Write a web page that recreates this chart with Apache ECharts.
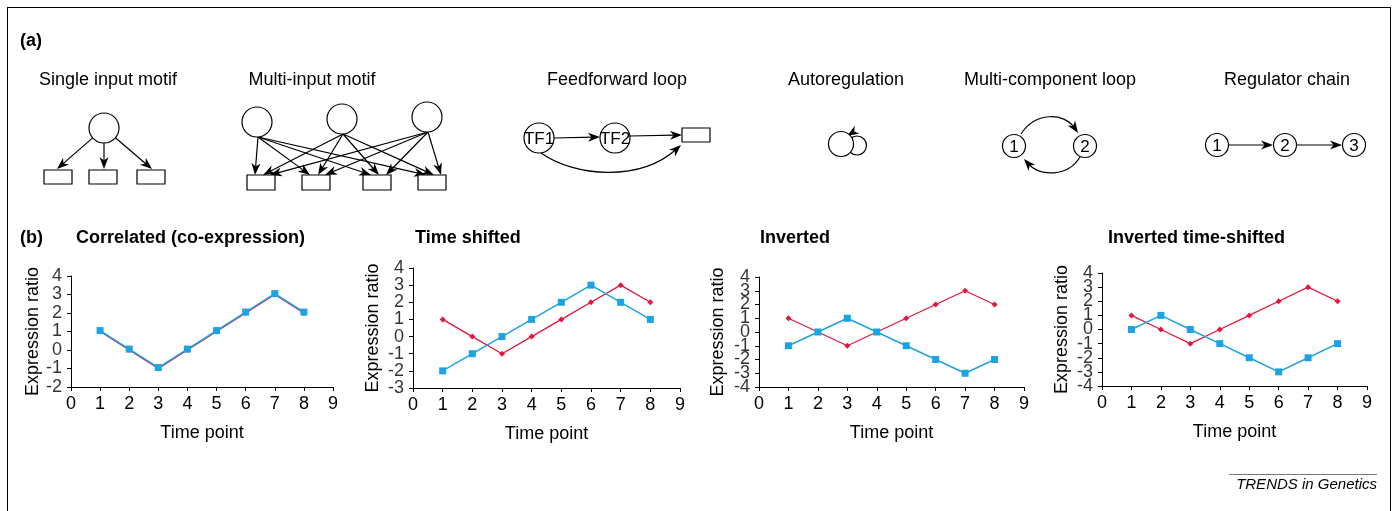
<!DOCTYPE html>
<html>
<head>
<meta charset="utf-8">
<script src="https://cdn.jsdelivr.net/npm/echarts@6/dist/echarts.min.js"></script>
<style>
  html, body { margin: 0; padding: 0; background: #fff; }
  #chart { width: 1398px; height: 511px; }
</style>
</head>
<body>
<div id="chart"></div>
<script>
// ---- data -------------------------------------------------------------
const timePoints = [1, 2, 3, 4, 5, 6, 7, 8];

const correlatedRed  = [1, 0, -1, 0, 1, 2, 3, 2];
const correlatedBlue = [1.05, 0.05, -0.95, 0.05, 1.05, 2.05, 3.05, 2.05];
const shiftedRed     = [1, 0, -1, 0, 1, 2, 3, 2];
const shiftedBlue    = [-2, -1, 0, 1, 2, 3, 2, 1];
const invertedRed    = [1, 0, -1, 0, 1, 2, 3, 2];
const invertedBlue   = [-1, 0, 1, 0, -1, -2, -3, -2];
const invShiftRed    = [1, 0, -1, 0, 1, 2, 3, 2];
const invShiftBlue   = [0, 1, 0, -1, -2, -3, -2, -1];

// y tick labels of each panel
const yTicksCorrelated = [-2, -1, 0, 1, 2, 3, 4];
const yTicksShifted    = [-3, -2, -1, 0, 1, 2, 3, 4];
const yTicksInverted   = [-4, -3, -2, -1, 0, 1, 2, 3, 4];
const yTicksInvShift   = [-4, -3, -2, -1, 0, 1, 2, 3, 4];

const panelTitles = ['Correlated (co-expression)', 'Time shifted', 'Inverted', 'Inverted time-shifted'];
const xMin = 0, xMax = 9;

const motifTitles = ['Single input motif', 'Multi-input motif', 'Feedforward loop',
                     'Autoregulation', 'Multi-component loop', 'Regulator chain'];

// ---- styling ----------------------------------------------------------
const FONT = '"Liberation Sans", Arial, Helvetica, sans-serif';
const RED = '#e3173e';
const BLUE = '#1ca4e2';
const STROKE = 1.2;

const grids = [
  { left: 71,   top: 276, width: 262, height: 111 },
  { left: 413,  top: 268, width: 267, height: 120 },
  { left: 759,  top: 277, width: 265, height: 110 },
  { left: 1102, top: 273, width: 265, height: 113 }
];
const yNameGaps = [29, 31, 32, 31];
const titleLefts = [76, 415, 760, 1108];

const seriesPairs = [
  [correlatedRed, correlatedBlue],
  [shiftedRed, shiftedBlue],
  [invertedRed, invertedBlue],
  [invShiftRed, invShiftBlue]
];
const yTickSets = [yTicksCorrelated, yTicksShifted, yTicksInverted, yTicksInvShift];

const toPairs = vals => timePoints.map((t, i) => [t, vals[i]]);

// ---- schematic helpers ------------------------------------------------
function head(tx, ty, ux, uy) {
  const L = 12, W = 4.5, N = 8.5;
  const bx = tx - ux * L, by = ty - uy * L;
  const px = -uy, py = ux;
  return {
    type: 'polygon', z: 20,
    shape: { points: [[tx, ty], [bx + px * W, by + py * W], [tx - ux * N, ty - uy * N], [bx - px * W, by - py * W]] },
    style: { fill: '#000' }
  };
}
function arrow(x1, y1, x2, y2) {
  const dx = x2 - x1, dy = y2 - y1, len = Math.hypot(dx, dy);
  const ux = dx / len, uy = dy / len;
  return [
    { type: 'line', z: 20, shape: { x1, y1, x2: x2 - ux * 7, y2: y2 - uy * 7 }, style: { stroke: '#000', lineWidth: STROKE } },
    head(x2, y2, ux, uy)
  ];
}
function curvedArrow(x1, y1, cx1, cy1, cx2, cy2, x2, y2) {
  const dx = x2 - cx2, dy = y2 - cy2, len = Math.hypot(dx, dy);
  const ux = dx / len, uy = dy / len;
  return [
    { type: 'bezierCurve', z: 20,
      shape: { x1, y1, cpx1: cx1, cpy1: cy1, cpx2: cx2, cpy2: cy2, x2: x2 - ux * 6, y2: y2 - uy * 6 },
      style: { stroke: '#000', fill: null, lineWidth: STROKE } },
    head(x2, y2, ux, uy)
  ];
}
function node(cx, cy, r, label, size) {
  const out = [{ type: 'circle', z: 21, shape: { cx, cy, r }, style: { fill: '#fff', stroke: '#000', lineWidth: STROKE } }];
  if (label) {
    out.push({ type: 'text', z: 22, x: cx, y: cy + 1,
      style: { text: label, font: (size || 16) + 'px ' + FONT, fill: '#000', align: 'center', verticalAlign: 'middle' } });
  }
  return out;
}
function box(x, y, w, h) {
  return { type: 'rect', z: 21, shape: { x, y, width: w, height: h }, style: { fill: '#fff', stroke: '#000', lineWidth: STROKE } };
}
function label(x, y, text, font, align) {
  return { type: 'text', z: 22, x, y,
    style: { text, font, fill: '#000', align: align || 'center', verticalAlign: 'middle' } };
}
function fromCircle(cx, cy, r, tx, ty) {
  const dx = tx - cx, dy = ty - cy, len = Math.hypot(dx, dy);
  return arrow(cx + dx / len * r, cy + dy / len * r, tx, ty);
}

// ---- panel (a) schematics ---------------------------------------------
const g = [];

// frame
g.push({ type: 'line', shape: { x1: 7, y1: 7.5, x2: 1391, y2: 7.5 }, style: { stroke: '#000', lineWidth: 1 } });
g.push({ type: 'line', shape: { x1: 7.5, y1: 7, x2: 7.5, y2: 511 }, style: { stroke: '#000', lineWidth: 1 } });
g.push({ type: 'line', shape: { x1: 1390.5, y1: 7, x2: 1390.5, y2: 511 }, style: { stroke: '#000', lineWidth: 1 } });

g.push(label(20, 41, '(a)', 'bold 18px ' + FONT, 'left'));
g.push(label(20, 238, '(b)', 'bold 18px ' + FONT, 'left'));

const motifCenters = [108, 312, 617, 846, 1050, 1287];
motifTitles.forEach((t, i) => g.push(label(motifCenters[i], 80, t, '18px ' + FONT)));

// single input motif
{
  const c = [104, 128, 15];
  const rects = [[44, 170], [89, 170], [137, 170]];
  const tips = [[57, 169], [104, 169], [152, 169]];
  tips.forEach(t => g.push(...fromCircle(c[0], c[1], c[2], t[0], t[1])));
  g.push(...node(c[0], c[1], c[2]));
  rects.forEach(r => g.push(box(r[0], r[1], 28, 14)));
}

// multi-input motif: every regulator points at every target
{
  const circles = [[257, 122], [342, 119], [427, 117]];
  const rectsX = [247, 302, 363, 418];
  const offs = [-6, 2, 9];
  circles.forEach((c, i) => {
    rectsX.forEach(x => {
      g.push(...arrow(c[0] + 1, c[1] + 15, x + 14 + offs[i], 175));
    });
  });
  circles.forEach(c => g.push(...node(c[0], c[1], 15)));
  rectsX.forEach(x => g.push(box(x, 175, 28, 15)));
}

// feedforward loop
{
  g.push(...arrow(554, 138, 600, 137));
  g.push(...arrow(630, 136, 682, 135));
  g.push(...curvedArrow(541, 153, 575, 177, 640, 182, 681, 145));
  g.push(...node(539, 138, 15, 'TF1', 17));
  g.push(...node(615, 138, 15, 'TF2', 17));
  g.push(box(682, 128, 28, 14));
}

// autoregulation
{
  g.push({ type: 'circle', z: 20, shape: { cx: 857, cy: 145.5, r: 9.5 }, style: { fill: null, stroke: '#000', lineWidth: STROKE } });
  g.push(...node(841, 144, 12.5));
  g.push(head(847, 136, -0.85, 0.53));
}

// multi-component loop
{
  g.push(...curvedArrow(1021, 134, 1035, 112, 1064, 112, 1078, 133));
  g.push(...curvedArrow(1080, 157, 1068, 177, 1040, 177, 1024, 159));
  g.push(...node(1014, 146, 11.5, '1', 17));
  g.push(...node(1085, 146, 11.5, '2', 17));
}

// regulator chain
{
  g.push(...arrow(1229, 145, 1273, 145));
  g.push(...arrow(1297, 145, 1342, 145));
  g.push(...node(1217, 145, 11.5, '1', 17));
  g.push(...node(1285, 145, 11.5, '2', 17));
  g.push(...node(1354, 145, 11.5, '3', 17));
}

// journal footer
g.push({ type: 'line', shape: { x1: 1229, y1: 474.5, x2: 1377, y2: 474.5 }, style: { stroke: '#777', lineWidth: 1 } });
g.push(label(1377, 485, 'TRENDS in Genetics', 'italic 15px ' + FONT, 'right'));

// ---- panel (b) charts -------------------------------------------------
const axisText = { color: '#000', fontSize: 18, fontFamily: FONT };

// the stacked y tick labels are drawn by a label-only series at x = 0,
// so none of them is dropped for sitting close to its neighbour
const tickLabelSeries = yTickSets.map((ticks, i) => ({
  type: 'scatter', xAxisIndex: i, yAxisIndex: i, silent: true, clip: false, z: 5,
  data: ticks.map(v => [xMin, v]),
  symbolSize: 0.1, itemStyle: { color: 'rgba(0,0,0,0)' },
  label: {
    show: true, position: 'left', distance: 9,
    formatter: p => String(p.value[1]),
    color: '#000', fontSize: 18, fontFamily: FONT
  },
  labelLayout: { hideOverlap: false }
}));

const option = {
  animation: false,
  backgroundColor: '#fff',
  title: panelTitles.map((t, i) => ({
    text: t, left: titleLefts[i], top: 229, padding: 0,
    textStyle: { fontSize: 18, fontWeight: 'bold', color: '#000', fontFamily: FONT }
  })),
  grid: grids.map(gr => Object.assign({ containLabel: false }, gr)),
  xAxis: grids.map((gr, i) => ({
    type: 'value', gridIndex: i, min: xMin, max: xMax, interval: 1,
    name: 'Time point', nameLocation: 'middle', nameGap: 37,
    nameTextStyle: axisText,
    axisLine: { show: true, onZero: false, lineStyle: { color: '#000', width: 1 } },
    axisTick: { show: true, length: 4, lineStyle: { color: '#000' } },
    axisLabel: Object.assign({ margin: 8, showMinLabel: true, showMaxLabel: true, hideOverlap: false }, axisText),
    splitLine: { show: false }
  })),
  yAxis: yTickSets.map((ticks, i) => ({
    type: 'value', gridIndex: i, min: ticks[0], max: ticks[ticks.length - 1], interval: 1,
    name: 'Expression ratio', nameLocation: 'middle', nameGap: yNameGaps[i], nameRotate: 90,
    nameTextStyle: axisText,
    axisLine: { show: true, onZero: false, lineStyle: { color: '#000', width: 1 } },
    axisTick: { show: true, length: 4, lineStyle: { color: '#000' } },
    axisLabel: { show: false },
    splitLine: { show: false }
  })),
  series: seriesPairs.flatMap((pair, i) => [
    {
      type: 'line', xAxisIndex: i, yAxisIndex: i, data: toPairs(pair[0]),
      symbol: 'diamond', symbolSize: 6, showSymbol: true,
      lineStyle: { color: RED, width: 1.3 }, itemStyle: { color: RED }
    },
    {
      type: 'line', xAxisIndex: i, yAxisIndex: i, data: toPairs(pair[1]),
      symbol: 'rect', symbolSize: 7, showSymbol: true,
      lineStyle: { color: BLUE, width: 1.5 }, itemStyle: { color: BLUE }
    }
  ]).concat(tickLabelSeries),
  graphic: g
};

const chart = echarts.init(document.getElementById('chart'), null, { renderer: 'canvas' });
chart.setOption(option);
</script>
</body>
</html>
